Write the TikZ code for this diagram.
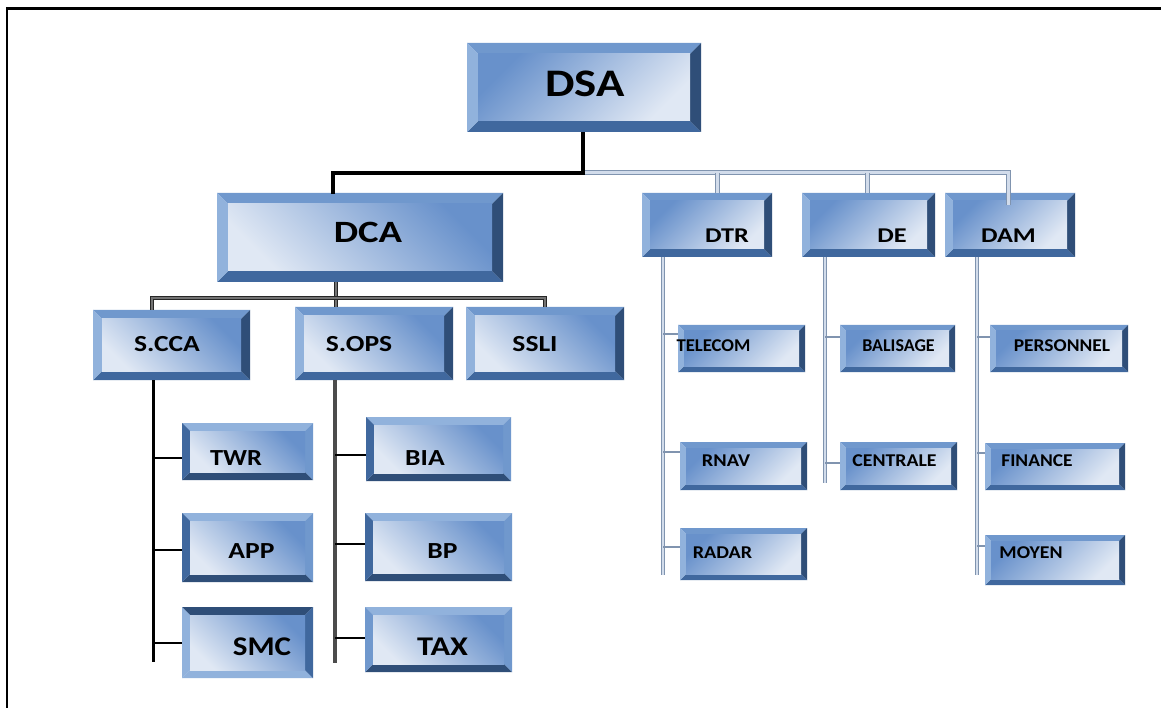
\documentclass[tikz,border=0pt]{standalone}
\usepackage{fontspec}
\setmainfont{Carlito}
\definecolor{bevT}{RGB}{112,152,205}
\definecolor{bevL}{RGB}{145,178,220}
\definecolor{bevR}{RGB}{47,78,120}
\definecolor{bevB}{RGB}{64,104,158}
\definecolor{faceA}{RGB}{104,145,203}
\definecolor{faceB}{RGB}{224,232,244}
\definecolor{pipeE}{RGB}{128,148,175}
\definecolor{pipeC}{RGB}{210,220,235}
\newlength\bvw
\newcommand\sx[2]{\scalebox{#1}[1]{#2}}
\tikzset{
  bev/.code={\setlength\bvw{#1}},
  faceangle/.store in=\faceang,
  bevnorm/.code={\colorlet{cT}{bevT}\colorlet{cB}{bevB}\colorlet{cL}{bevL}\colorlet{cR}{bevR}},
  bevmir/.code={\colorlet{cT}{bevL}\colorlet{cB}{bevR}\colorlet{cL}{bevB}\colorlet{cR}{bevT}},
  bevtax/.code={\colorlet{cT}{bevL}\colorlet{cB}{bevR}\colorlet{cL}{bevT}\colorlet{cR}{bevT}},
  bevflip/.code={\colorlet{cT}{bevR}\colorlet{cB}{bevL}\colorlet{cL}{bevL}\colorlet{cR}{bevB}},
  bevbox/.style={rectangle, inner sep=0pt, draw=none, fill=faceB, bev=9pt, faceangle=-45, bevnorm,
    path picture={
      \path (path picture bounding box.north west) coordinate (pnw)
            (path picture bounding box.north east) coordinate (pne)
            (path picture bounding box.south west) coordinate (psw)
            (path picture bounding box.south east) coordinate (pse);
      \fill[cT] (pnw) -- (pne) -- ([shift={(-\bvw,-\bvw)}]pne) -- ([shift={(\bvw,-\bvw)}]pnw) -- cycle;
      \fill[cB] (psw) -- (pse) -- ([shift={(-\bvw,\bvw)}]pse) -- ([shift={(\bvw,\bvw)}]psw) -- cycle;
      \fill[cL] (pnw) -- (psw) -- ([shift={(\bvw,\bvw)}]psw) -- ([shift={(\bvw,-\bvw)}]pnw) -- cycle;
      \fill[cR] (pne) -- (pse) -- ([shift={(-\bvw,\bvw)}]pse) -- ([shift={(-\bvw,-\bvw)}]pne) -- cycle;
      \shade[top color=faceA, bottom color=faceB, shading angle=\faceang]
        ([shift={(\bvw,-\bvw)}]pnw) rectangle ([shift={(-\bvw,\bvw)}]pse);
    }},
  txt/.style={inner sep=0pt, anchor=base, text=black},
  fDSA/.style={font=\fontsize{39}{39}\selectfont\bfseries},
  fDCA/.style={font=\fontsize{31}{31}\selectfont\bfseries},
  fS/.style={font=\fontsize{23}{23}\selectfont\bfseries},
  fL/.style={font=\fontsize{27}{27}\selectfont\bfseries},
  fD/.style={font=\fontsize{21}{21}\selectfont\bfseries},
  fsm/.style={font=\fontsize{18}{18}\selectfont\bfseries},
  blk/.style={line width=3.5pt, black},
  pipe/.style={draw=pipeE, line width=1pt, double=pipeC, double distance=3pt},
  vpipe/.style={draw=pipeE, line width=0.8pt, double=pipeC, double distance=2.5pt},
  rbr/.style={draw=pipeE, line width=1.6pt},
  dk/.style={draw=black!85, line width=1pt, double=black!55, double distance=1.6pt},
  lbr/.style={line width=2pt, black},
}
\begin{document}
\begin{tikzpicture}[x=1pt,y=-1pt]
\useasboundingbox (0,0) rectangle (1161,708);
\fill[white] (0,0) rectangle (1161,708);
\draw[line width=2.5pt] (7,720) -- (7,8.5) -- (1175,8.5);

% ---------- boxes ----------
\node[bevbox, bev=11pt, faceangle=45, minimum width=234pt, minimum height=89pt] (DSA) at (584,87.5) {};
\node[bevbox, bev=11pt, minimum width=286pt, minimum height=89pt] (DCA) at (360,237.5) {};
\node[bevbox, minimum width=157pt, minimum height=70pt] (SCCA) at (171.5,345) {};
\node[bevbox, minimum width=158pt, minimum height=73pt] (SOPS) at (374,343.5) {};
\node[bevbox, minimum width=158pt, minimum height=73pt] (SSLI) at (545,343.5) {};
\node[bevbox, bev=8pt, bevmir, minimum width=131pt, minimum height=57pt] (TWR) at (247.5,451.5) {};
\node[bevbox, bev=8pt, bevmir, minimum width=131pt, minimum height=69pt] (APP) at (247.5,547.5) {};
\node[bevbox, bev=8pt, bevflip, minimum width=131pt, minimum height=71pt] (SMC) at (247.5,642.5) {};
\node[bevbox, bev=8pt, bevmir, minimum width=145pt, minimum height=64pt] (BIA) at (438.5,449) {};
\node[bevbox, bev=8pt, bevmir, minimum width=147pt, minimum height=68pt] (BP) at (438.5,547) {};
\node[bevbox, bev=8pt, bevtax, minimum width=147pt, minimum height=65pt] (TAX) at (438.5,639.5) {};
\node[bevbox, bev=8pt, faceangle=45, minimum width=130pt, minimum height=64pt] (DTR) at (707,225) {};
\node[bevbox, bev=8pt, faceangle=45, minimum width=133pt, minimum height=64pt] (DE) at (868.5,225) {};
\node[bevbox, bev=8pt, faceangle=45, minimum width=130pt, minimum height=64pt] (DAM) at (1010,225) {};
\node[bevbox, bev=6pt, faceangle=45, minimum width=127pt, minimum height=47pt] (TELECOM) at (741.5,348.5) {};
\node[bevbox, bev=6pt, faceangle=45, minimum width=115pt, minimum height=47pt] (BALISAGE) at (897.5,348.5) {};
\node[bevbox, bev=6pt, faceangle=45, minimum width=138pt, minimum height=47pt] (PERSONNEL) at (1059,348.5) {};
\node[bevbox, bev=6pt, faceangle=45, minimum width=127pt, minimum height=48pt] (RNAV) at (743.5,466) {};
\node[bevbox, bev=6pt, faceangle=45, minimum width=117pt, minimum height=48pt] (CENTRALE) at (898.5,466) {};
\node[bevbox, bev=6pt, faceangle=45, minimum width=140pt, minimum height=47pt] (FINANCE) at (1055,466.5) {};
\node[bevbox, bev=6pt, faceangle=45, minimum width=127pt, minimum height=52pt] (RADAR) at (743.5,554) {};
\node[bevbox, bev=6pt, faceangle=45, minimum width=140pt, minimum height=50pt] (MOYEN) at (1055,560) {};

% ---------- texts ----------
\node[txt, fDSA] (tDSA) at (585,97) {\sx{1.2}{DSA}};
\node[txt, fDCA] (tDCA) at (368,243) {\sx{1.25}{DCA}};
\node[txt, fS] (tSCCA) at (167,352) {\sx{1.2}{S.CCA}};
\node[txt, fS] (tSOPS) at (359,351) {\sx{1.2}{S.OPS}};
\node[txt, fS] (tSSLI) at (535,352) {\sx{1.2}{SSLI}};
\node[txt, fS] (tTWR) at (236,465) {\sx{1.15}{TWR}};
\node[txt, fS] (tBIA) at (425,465) {\sx{1.2}{BIA}};
\node[txt, fS] (tAPP) at (251.5,558) {\sx{1.2}{APP}};
\node[txt, fS] (tBP) at (442.5,558) {\sx{1.2}{BP}};
\node[txt, fL] (tSMC) at (262,655) {\sx{1.15}{SMC}};
\node[txt, fL] (tTAX) at (442.5,655) {\sx{1.2}{TAX}};
\node[txt, fD] (tDTR) at (727,243) {\sx{1.25}{DTR}};
\node[txt, fD] (tDE) at (892,243) {\sx{1.25}{DE}};
\node[txt, fD] (tDAM) at (1008.5,243) {\sx{1.25}{DAM}};
\node[txt, fsm] (tTELECOM) at (713.5,352) {\sx{1.04}{TELECOM}};
\node[txt, fsm] (tBALISAGE) at (898.5,352) {\sx{1.0}{BALISAGE}};
\node[txt, fsm] (tPERSONNEL) at (1062,352) {\sx{1.08}{PERSONNEL}};
\node[txt, fsm] (tRNAV) at (726,466) {\sx{1.13}{RNAV}};
\node[txt, fsm] (tCENTRALE) at (894.5,466) {\sx{1.1}{CENTRALE}};
\node[txt, fsm] (tFINANCE) at (1037,466) {\sx{1.08}{FINANCE}};
\node[txt, fsm] (tRADAR) at (722.5,558) {\sx{1.12}{RADAR}};
\node[txt, fsm] (tMOYEN) at (1031,558) {\sx{1.1}{MOYEN}};

% ---------- connector anchor points ----------
\coordinate (J) at (583,173);
\coordinate (K) at (336,298);
\coordinate (dTR) at ([xshift=10pt]DTR.north);
\coordinate (dE) at ([xshift=-1.5pt]DE.north);
\coordinate (dAM) at ([xshift=-2pt,yshift=-12pt]DAM.north);
\coordinate (vC) at (153,662);
\coordinate (vO) at (335,663);
\coordinate (vT) at (663,575);
\coordinate (vE) at (825,483);
\coordinate (vM) at (977,575);
\coordinate (bTWR) at ([yshift=-6.5pt]TWR.west);
\coordinate (bAPP) at ([yshift=-2.5pt]APP.west);
\coordinate (bSMC) at (SMC.west);
\coordinate (bBIA) at ([yshift=-6pt]BIA.west);
\coordinate (bBP) at ([yshift=3pt]BP.west);
\coordinate (bTAX) at ([yshift=1.5pt]TAX.west);
\coordinate (bTEL) at ([yshift=14.5pt]TELECOM.west);
\coordinate (bRNAV) at ([yshift=14pt]RNAV.west);
\coordinate (bRAD) at ([yshift=7pt]RADAR.west);
\coordinate (bBAL) at ([yshift=11.5pt]BALISAGE.west);
\coordinate (bCEN) at ([yshift=3pt]CENTRALE.west);
\coordinate (bPER) at ([yshift=11.5pt]PERSONNEL.west);
\coordinate (bFIN) at ([yshift=13.5pt]FINANCE.west);
\coordinate (bMOY) at ([yshift=14pt]MOYEN.west);

% ---------- connectors ----------
\draw[pipe] (J) -| (dAM);
\draw[pipe] (J -| dTR) -- (dTR);
\draw[pipe] (J -| dE) -- (dE);
\draw[blk] ([xshift=-1pt]DSA.south) |- (J) -| ([xshift=-27pt,yshift=-1pt]DCA.north);

\draw[dk] ([xshift=-24pt]DCA.south) -- ([xshift=-38pt]SOPS.north);
\draw[dk] ([xshift=-19.5pt]SCCA.north) |- (K) -| (SSLI.north);

% S.CCA
\draw[line width=3pt, black] ([xshift=-18.5pt]SCCA.south) -- (vC);
\draw[lbr] (bTWR -| vC) -- (bTWR);
\draw[lbr] (bAPP -| vC) -- (bAPP);
\draw[lbr] (bSMC -| vC) -- (bSMC);
% S.OPS
\draw[line width=3.5pt, black!70] ([xshift=-39pt]SOPS.south) -- (vO);
\draw[lbr] (bBIA -| vO) -- (bBIA);
\draw[lbr] (bBP -| vO) -- (bBP);
\draw[lbr] (bTAX -| vO) -- (bTAX);
% DTR
\draw[vpipe] ([xshift=-44pt]DTR.south) -- (vT);
\draw[rbr] (bTEL -| vT) -- (bTEL);
\draw[rbr] (bRNAV -| vT) -- (bRNAV);
\draw[rbr] (bRAD -| vT) -- (bRAD);
% DE
\draw[vpipe] ([xshift=-43.5pt]DE.south) -- (vE);
\draw[rbr] (bBAL -| vE) -- (bBAL);
\draw[rbr] (bCEN -| vE) -- (bCEN);
% DAM
\draw[vpipe] ([xshift=-33pt]DAM.south) -- (vM);
\draw[rbr] (bPER -| vM) -- (bPER);
\draw[rbr] (bFIN -| vM) -- (bFIN);
\draw[rbr] (bMOY -| vM) -- (bMOY);
\end{tikzpicture}
\end{document}
